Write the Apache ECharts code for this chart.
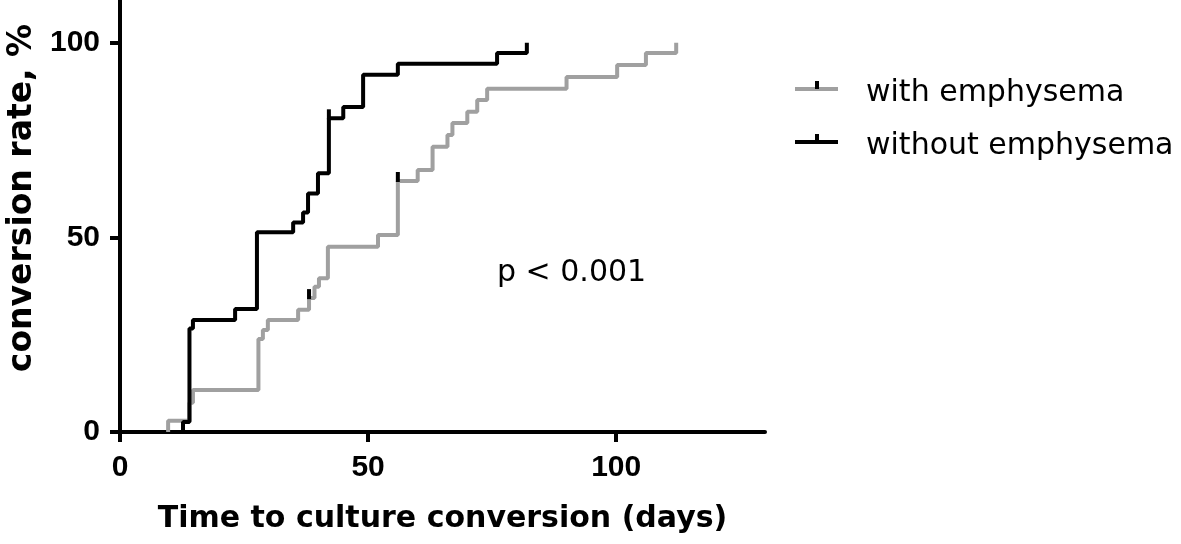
<!DOCTYPE html>
<html>
<head>
<meta charset="utf-8">
<title>culture conversion</title>
<script src="https://cdn.jsdelivr.net/npm/echarts@6/dist/echarts.min.js"></script>
<style>
  html, body { margin: 0; padding: 0; background: #fff; }
  #chart { width: 1181px; height: 544px; }
</style>
</head>
<body>
<div id="chart"></div>
<script>
// cumulative conversion (%). value is the level after that day
const withDays = [9.7, 14, 14.7, 27.9, 28.8, 29.8, 35.9, 38.1, 39.2, 40.1, 41.9, 52, 56, 60, 63, 66, 67, 70, 72, 74, 90, 100.2, 106, 112.1];
const withRate = [2.9, 7.5, 10.8, 23.9, 26.2, 28.8, 31.4, 34.4, 37.3, 39.5, 47.6, 50.6, 64.5, 67.3, 73.3, 76.3, 79.4, 82.3, 85.3, 88.2, 91.2, 94.3, 97.4, 100];
const withoutDays = [12.7, 14, 14.7, 23.2, 27.6, 34.9, 36.9, 37.9, 39.9, 42.1, 45, 49, 56, 76, 82];
const withoutRate = [2.6, 26.6, 28.8, 31.6, 51.3, 53.8, 56.4, 61.3, 66.5, 80.6, 83.5, 91.8, 94.6, 97.4, 100];

// censored patients (ticks), [day, level]
const withCensored = [[38.1, 34.4], [56, 64.5]];
const withoutCensored = [[42.1, 80.6]];

const xTicks = [0, 50, 100];
const yTicks = [0, 50, 100];

const GRAY = '#a0a0a0';

// curve starts at 0 on the first event day, then steps
function kmData(days, rate) {
    const out = [[days[0], 0]];
    days.forEach((d, i) => out.push([d, rate[i]]));
    return out;
}

// small vertical tick above the line for a censored case
function censorTick(params, api) {
    const p = api.coord([api.value(0), api.value(1)]);
    return {
        type: 'line',
        shape: { x1: p[0], y1: p[1] + 1, x2: p[0], y2: p[1] - 9 },
        style: { stroke: '#000', lineWidth: 4 }
    };
}

const chart = echarts.init(document.getElementById('chart'), null, { renderer: 'canvas' });

chart.setOption({
    animation: false,
    backgroundColor: '#fff',
    grid: { left: 120, right: 416, top: 0, bottom: 112, containLabel: false, outerBoundsMode: 'none' },
    xAxis: {
        type: 'value',
        min: 0,
        max: 130,
        interval: 50,
        name: 'Time to culture conversion (days)',
        nameLocation: 'middle',
        nameGap: 72,
        nameMoveOverlap: false,
        nameTextStyle: { fontFamily: 'DejaVu Sans', fontWeight: 'bold', fontSize: 30, color: '#000' },
        axisLine: { show: true, onZero: false, lineStyle: { color: '#000', width: 4 } },
        axisTick: { show: true, length: 10, lineStyle: { color: '#000', width: 4 }, customValues: xTicks },
        axisLabel: {
            margin: 21,
            customValues: xTicks,
            fontFamily: 'Liberation Sans',
            fontWeight: 'bold',
            fontSize: 30,
            color: '#000'
        },
        splitLine: { show: false }
    },
    yAxis: {
        type: 'value',
        min: 0,
        max: 111,
        interval: 50,
        name: 'conversion rate, %',
        nameLocation: 'middle',
        nameGap: 81,
        nameMoveOverlap: false,
        nameTextStyle: {
            fontFamily: 'DejaVu Sans', fontWeight: 'bold', fontSize: 33, color: '#000',
            padding: [0, 0, 0, 36]
        },
        axisLine: { show: true, onZero: false, lineStyle: { color: '#000', width: 4 } },
        axisTick: { show: true, length: 10, lineStyle: { color: '#000', width: 4 }, customValues: yTicks },
        axisLabel: {
            margin: 20,
            customValues: yTicks,
            fontFamily: 'Liberation Sans',
            fontWeight: 'bold',
            fontSize: 30,
            color: '#000'
        },
        splitLine: { show: false }
    },
    series: [
        {
            name: 'with emphysema',
            type: 'line',
            step: 'end',
            showSymbol: false,
            data: kmData(withDays, withRate),
            lineStyle: { color: GRAY, width: 4 },
            z: 3
        },
        {
            name: 'without emphysema',
            type: 'line',
            step: 'end',
            showSymbol: false,
            data: kmData(withoutDays, withoutRate),
            lineStyle: { color: '#000', width: 4 },
            z: 4
        },
        {
            type: 'custom',
            renderItem: censorTick,
            data: withCensored.concat(withoutCensored),
            z: 5
        }
    ],
    graphic: [
        // legend
        { type: 'line', shape: { x1: 795, y1: 89, x2: 838, y2: 89 }, style: { stroke: GRAY, lineWidth: 4 } },
        { type: 'line', shape: { x1: 817, y1: 81, x2: 817, y2: 89 }, style: { stroke: '#000', lineWidth: 4 } },
        { type: 'text', x: 866, y: 93, style: { text: 'with emphysema', font: '30px "DejaVu Sans"', fill: '#000', verticalAlign: 'middle' } },
        { type: 'line', shape: { x1: 795, y1: 142, x2: 838, y2: 142 }, style: { stroke: '#000', lineWidth: 4 } },
        { type: 'line', shape: { x1: 817, y1: 134, x2: 817, y2: 142 }, style: { stroke: '#000', lineWidth: 4 } },
        { type: 'text', x: 866, y: 146, style: { text: 'without emphysema', font: '30px "DejaVu Sans"', fill: '#000', verticalAlign: 'middle' } },
        // log-rank
        { type: 'text', x: 497, y: 273, style: { text: 'p < 0.001', font: '30px "DejaVu Sans"', fill: '#000', verticalAlign: 'middle' } }
    ]
});

window.addEventListener('resize', () => chart.resize());
</script>
</body>
</html>
